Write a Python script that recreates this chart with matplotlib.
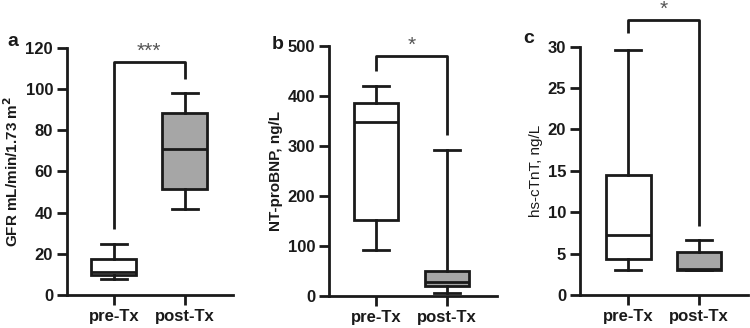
import matplotlib.pyplot as plt

plt.rcParams['font.family'] = ['Liberation Sans', 'DejaVu Sans']

groups = ["pre-Tx", "post-Tx"]

# box stats: whislo, q1, med, q3, whishi
gfr_pre = [8, 9.5, 11, 17.5, 25]
gfr_post = [42, 51.5, 71, 88.5, 98]
bnp_pre = [92, 152, 347, 386, 420]
bnp_post = [5, 20, 27, 50, 292]
tnt_pre = [3.0, 4.3, 7.3, 14.5, 29.6]
tnt_post = [3.0, 3.0, 3.1, 5.2, 6.6]

panels = [
    dict(letter="a", ylabel="GFR mL/min/1.73 m$^\\mathbf{2}$", pre=gfr_pre, post=gfr_post,
         ylim=120, step=20, bracket=(32, 113, 105), star="***", lw_label="bold",
         pos=[0.0893, 0.1006, 0.2213, 0.7534], xlim=(0.34, 2.68), letter_xy=(0.010, 0.86)),
    dict(letter="b", ylabel="NT-proBNP, ng/L", pre=bnp_pre, post=bnp_post,
         ylim=500, step=100, bracket=(449, 479, 321), star="*", lw_label="bold",
         pos=[0.4387, 0.0985, 0.2240, 0.7625], xlim=(0.335, 2.71), letter_xy=(0.362, 0.85)),
    dict(letter="c", ylabel="hs-cTnT, ng/L", pre=tnt_pre, post=tnt_post,
         ylim=30, step=5, bracket=(31.6, 33.2, 8.3), star="*", lw_label="normal",
         pos=[0.7733, 0.1006, 0.2240, 0.7570], xlim=(0.317, 2.69), letter_xy=(0.697, 0.87)),
]

fig = plt.figure(figsize=(7.5, 3.28), dpi=100)
lw = 2.0
dark = "#1a1a1a"

for p in panels:
    ax = fig.add_axes(p["pos"])
    stats = []
    for name, s in zip(groups, [p["pre"], p["post"]]):
        stats.append(dict(label=name, whislo=s[0], q1=s[1], med=s[2], q3=s[3], whishi=s[4], fliers=[]))
    bp = ax.bxp(stats, positions=[1, 2], widths=0.63, patch_artist=True, showfliers=False,
                boxprops=dict(linewidth=lw, edgecolor=dark),
                medianprops=dict(linewidth=lw, color=dark),
                whiskerprops=dict(linewidth=lw, color=dark),
                capprops=dict(linewidth=lw, color=dark), capwidths=0.37)
    bp["boxes"][0].set_facecolor("white")
    bp["boxes"][1].set_facecolor("#a6a6a6")

    ax.set_xlim(*p["xlim"])
    ax.set_ylim(0, p["ylim"])
    ax.set_yticks(range(0, p["ylim"] + 1, p["step"]))
    for side in ["top", "right"]:
        ax.spines[side].set_visible(False)
    for side in ["left", "bottom"]:
        ax.spines[side].set_linewidth(lw)
        ax.spines[side].set_color(dark)
    ax.tick_params(axis="both", width=lw, length=7, color=dark, labelsize=12, pad=3)
    for lab in ax.get_xticklabels() + ax.get_yticklabels():
        lab.set_fontweight("bold")
        lab.set_color(dark)
    ax.set_ylabel(p["ylabel"], fontsize=11, fontweight=p["lw_label"], color=dark, labelpad=3)

    left, top, right = p["bracket"]
    ax.plot([1, 1, 2, 2], [left, top, top, right], color=dark, lw=lw, clip_on=False,
            solid_capstyle="butt")
    ax.text(1.5, top + p["ylim"] * 0.005, p["star"], ha="center", va="bottom", fontsize=15,
            color="#555555", clip_on=False)
    fig.text(p["letter_xy"][0], p["letter_xy"][1], p["letter"], fontsize=14, fontweight="bold",
             color=dark)

fig.savefig("out.png", dpi=100)
